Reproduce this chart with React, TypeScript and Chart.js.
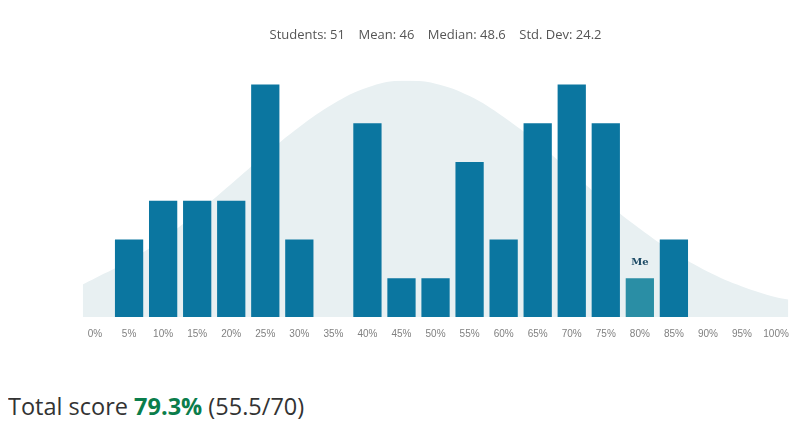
import React, { useEffect, useRef } from "react";
import { Chart, registerables } from "chart.js";

Chart.register(...registerables);

const categories = ["0%", "5%", "10%", "15%", "20%", "25%", "30%", "35%", "40%", "45%", "50%", "55%", "60%", "65%", "70%", "75%", "80%", "85%", "90%", "95%", "100%"];
const counts = [0, 2, 3, 3, 3, 6, 2, 0, 5, 1, 1, 4, 2, 5, 6, 5, 1, 2, 0, 0, 0];
const myIndex = 16;
const curveX = [-1.8, 0, 5, 10, 15, 20, 25, 30, 35, 40, 45, 50, 55, 60, 65, 70, 75, 80, 85, 90, 95, 100, 101.8];
const curveY = [0.84, 1.0, 1.45, 2.02, 2.69, 3.43, 4.19, 4.9, 5.5, 5.92, 6.1, 6.02, 5.7, 5.16, 4.49, 3.73, 2.97, 2.28, 1.67, 1.17, 0.79, 0.51, 0.45];
const statsText = "Students: 51    Mean: 46    Median: 48.6    Std. Dev: 24.2";

const meLabel = {
  id: "meLabel",
  afterDatasetsDraw(chart: any) {
    const meta = chart.getDatasetMeta(1);
    const el = meta.data[myIndex];
    if (!el) return;
    const ctx = chart.ctx;
    ctx.save();
    ctx.font = "bold 10px 'DejaVu Serif', 'Liberation Serif', serif";
    ctx.fillStyle = "#1d4b66";
    ctx.textAlign = "center";
    ctx.textBaseline = "bottom";
    ctx.fillText("Me", el.x, el.y - 11);
    ctx.restore();
  },
};

export default function App() {
  const ref = useRef<HTMLCanvasElement>(null);
  useEffect(() => {
    if (!ref.current) return;
    const chart = new Chart(ref.current, {
      type: "bar",
      data: {
        labels: categories,
        datasets: [
          {
            type: "line",
            data: curveX.map((x, i) => ({ x, y: curveY[i] })),
            xAxisID: "xc",
            yAxisID: "y",
            fill: "origin",
            backgroundColor: "#e8f0f2",
            borderWidth: 0,
            borderColor: "rgba(0,0,0,0)",
            pointRadius: 0,
            tension: 0.4,
            order: 2,
          },
          {
            type: "bar",
            data: counts,
            xAxisID: "x",
            yAxisID: "y",
            backgroundColor: counts.map((_, i) => (i === myIndex ? "#2a8ea5" : "#0b76a0")),
            barPercentage: 1,
            categoryPercentage: 0.83,
            grouped: false,
            order: 1,
          },
        ],
      } as any,
      options: {
        animation: false,
        responsive: false,
        maintainAspectRatio: false,
        layout: { padding: { left: 78, right: 6, top: 0, bottom: 0 } },
        plugins: {
          legend: { display: false },
          tooltip: { enabled: false },
          title: {
            display: true,
            text: statsText,
            fullSize: false,
            color: "#555",
            font: { family: "'Open Sans', sans-serif", size: 13, weight: "normal" },
            padding: { top: 27, bottom: 38 },
          },
        },
        scales: {
          x: {
            type: "category",
            offset: true,
            grid: { display: false, drawTicks: false },
            border: { display: false },
            ticks: {
              color: "#808080",
              font: { family: "'Liberation Sans', Arial, sans-serif", size: 10 },
              padding: 11,
              maxRotation: 0,
              autoSkip: false,
            },
          },
          xc: {
            type: "linear",
            display: false,
            offset: false,
            grid: { offset: false },
            min: -2.5,
            max: 102.5,
          },
          y: {
            display: false,
            min: 0,
            max: 6.1,
          },
        },
      } as any,
      plugins: [meLabel],
    });
    return () => chart.destroy();
  }, []);
  return (
    <div style={{ margin: "-8px 0 0 -8px", width: 800, height: 428, background: "#fff", position: "relative" }}>
      <canvas ref={ref} width={800} height={351} style={{ display: "block", width: 800, height: 351 }} />
      <div
        style={{
          position: "absolute",
          left: 8,
          top: 390,
          fontFamily: "'Open Sans', 'Noto Sans', sans-serif",
          fontSize: 23.5,
          color: "#333",
          whiteSpace: "nowrap",
        }}
      >
        Total score <span style={{ color: "#0b7d4b", fontWeight: "bold" }}>79.3%</span> (55.5/70)
      </div>
    </div>
  );
}
